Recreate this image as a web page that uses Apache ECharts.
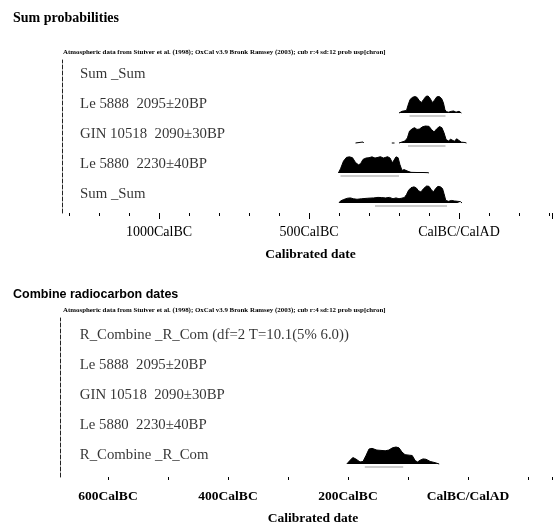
<!DOCTYPE html>
<html><head><meta charset="utf-8">
<script src="https://cdn.jsdelivr.net/npm/echarts@6/dist/echarts.min.js"></script>
<style>html,body{margin:0;padding:0;background:#fff}#c{width:560px;height:531px}</style>
</head><body><div id="c"></div>
<script>
// ---------- text ----------
const topTitle = 'Sum probabilities';
const bottomTitle = 'Combine radiocarbon dates';
const attribution = 'Atmospheric data from Stuiver et al. (1998); OxCal v3.9 Bronk Ramsey (2003); cub r:4 sd:12 prob usp[chron]';
const axisName = 'Calibrated date';
const topRowLabels = ['Sum _Sum', 'Le 5888  2095\u00b120BP', 'GIN 10518  2090\u00b130BP', 'Le 5880  2230\u00b140BP', 'Sum _Sum'];
const bottomRowLabels = ['R_Combine _R_Com (df=2 T=10.1(5% 6.0))', 'Le 5888  2095\u00b120BP', 'GIN 10518  2090\u00b130BP', 'Le 5880  2230\u00b140BP', 'R_Combine _R_Com'];

// ---------- axis ticks (calendar years, negative = BC) ----------
const topMajorTicks = [-1000, -500, 0];
const bottomLabelTicks = [-600, -400, -200, 0];

// ---------- probability distributions [year, relative density] ----------
const lc5888 = [[-200,0],[-190,0.1],[-175,0.15],[-170,0.45],[-163,0.8],[-155,0.92],[-147,0.97],[-140,0.92],[-132,0.72],[-125,0.62],[-118,0.8],[-110,0.98],[-103,1.0],[-96,0.85],[-89,0.62],[-82,0.75],[-74,0.95],[-66,0.97],[-58,0.85],[-52,0.6],[-47,0.2],[-42,0.08],[-35,0.05],[-25,0.1],[-18,0.12],[-10,0.05],[0,0.1],[8,0]];
const gin10518 = [[-345,0],[-340,0.06],[-320,0.06],[-318,0],[-316,null],[-226,null],[-224,0],[-220,0.08],[-215,0],[-213,null],[-203,null],[-200,0],[-195,0.08],[-180,0.12],[-172,0.3],[-165,0.7],[-155,0.85],[-148,0.9],[-140,0.8],[-132,0.82],[-122,0.95],[-112,1.0],[-100,0.98],[-92,0.8],[-83,0.65],[-75,0.82],[-65,0.97],[-57,0.9],[-50,0.6],[-43,0.2],[-35,0.12],[-28,0.22],[-22,0.15],[-15,0.1],[-8,0.25],[0,0.15],[8,0.05],[20,0.03],[25,0]];
const lc5880 = [[-402,0],[-395,0.25],[-385,0.7],[-375,0.92],[-365,0.95],[-355,0.9],[-345,0.62],[-335,0.48],[-328,0.55],[-320,0.8],[-310,0.88],[-300,0.9],[-290,0.95],[-280,0.88],[-270,0.92],[-262,0.96],[-252,0.88],[-245,0.92],[-238,0.96],[-230,0.88],[-222,0.6],[-216,0.55],[-210,0.95],[-203,0.9],[-197,0.5],[-190,0.15],[-183,0.2],[-177,0.25],[-170,0.1],[-160,0.04],[-140,0.03],[-120,0.03],[-103,0.02],[-100,0]];
const sumAll = [[-400,0],[-395,0.12],[-385,0.2],[-372,0.28],[-362,0.3],[-352,0.25],[-340,0.22],[-325,0.25],[-305,0.28],[-285,0.3],[-270,0.33],[-258,0.32],[-245,0.3],[-232,0.33],[-220,0.25],[-210,0.3],[-200,0.25],[-192,0.28],[-182,0.32],[-175,0.5],[-168,0.75],[-160,0.9],[-150,0.95],[-142,0.88],[-135,0.72],[-127,0.65],[-118,0.85],[-108,1.0],[-100,0.98],[-92,0.78],[-85,0.65],[-78,0.85],[-70,0.98],[-62,0.95],[-55,0.85],[-50,0.55],[-44,0.15],[-35,0.1],[-25,0.15],[-15,0.12],[-5,0.1],[5,0.08],[10,0]];
const rCombine = [[-202,0],[-197,0.2],[-192,0.38],[-187,0.3],[-180,0.12],[-175,0.15],[-170,0.5],[-165,0.88],[-160,0.92],[-152,0.82],[-145,0.8],[-138,0.78],[-132,0.82],[-126,0.95],[-120,1.0],[-115,0.95],[-110,0.7],[-105,0.55],[-98,0.52],[-93,0.5],[-88,0.2],[-84,0.12],[-80,0.22],[-75,0.3],[-70,0.28],[-63,0.15],[-55,0.08],[-48,0]];

// ---------- highest-probability ranges [from, to] ----------
const lc5888Range = [-165, -45];
const gin10518Range = [-170, -45];
const lc5880Range = [-395, -200];
const sumRange = [-280, -40];
const rCombineRange = [-172, -108];

// row index from the top (0..4) -> baseline value
const base = i => 4 - i;
const H = 17 / 30; // peak height in row units

const lineBlack = {color: '#000', width: 1};
function dist(pairs, row, gi) {
  const b = base(row);
  return {
    type: 'line', xAxisIndex: gi, yAxisIndex: gi, symbol: 'none', silent: true,
    connectNulls: false, clip: false,
    data: pairs.map(p => [p[0], p[1] == null ? '-' : b + p[1] * H]),
    lineStyle: lineBlack,
    areaStyle: {color: '#000', opacity: 1, origin: b}
  };
}
function rangeBar(r, row, gi) {
  const b = base(row) - 0.1;
  return {
    type: 'line', xAxisIndex: gi, yAxisIndex: gi, symbol: 'none', silent: true,
    data: [[r[0], b], [r[1], b]], lineStyle: {color: '#999', width: 1}
  };
}
function labels(texts, xVal, gi) {
  return {
    type: 'scatter', xAxisIndex: gi, yAxisIndex: gi, symbolSize: 0, clip: false, silent: true,
    data: texts.map((t, i) => ({name: t, value: [xVal, base(i) + 0.31]})),
    label: {show: true, position: 'right', distance: 0, formatter: '{b}',
      fontFamily: 'Liberation Serif', fontSize: 14.8, color: '#000'}
  };
}

const serif = 'Liberation Serif';
const tickLabelTop = v => v === 0 ? 'CalBC/CalAD' : (topMajorTicks.includes(v) ? (-v) + 'CalBC' : '');
const tickLabelBottom = v => v === 0 ? 'CalBC/CalAD' : (bottomLabelTicks.includes(v) ? (-v) + 'CalBC' : '');

const option = {
  animation: false,
  backgroundColor: '#fff',
  title: [
    {text: topTitle, left: 8, top: 6, textStyle: {fontFamily: serif, fontWeight: 'bold', fontSize: 14, color: '#000'}},
    {text: attribution, left: 58, top: 44, textStyle: {fontFamily: serif, fontWeight: 'bold', fontSize: 6.9, color: '#000'}},
    {text: bottomTitle, left: 8, top: 283, textStyle: {fontFamily: 'Liberation Sans', fontWeight: 'bold', fontSize: 12.5, color: '#000'}},
    {text: attribution, left: 58, top: 302, textStyle: {fontFamily: serif, fontWeight: 'bold', fontSize: 6.9, color: '#000'}}
  ],
  graphic: [
    {type: 'text', x: 313, y: 519, style: {text: axisName, fontFamily: serif, fontSize: 13.5, fontWeight: 'bold', fill: '#000', align: 'center', verticalAlign: 'middle'}}
  ],
  grid: [
    {left: 69, top: 60, width: 483, height: 153},
    {left: 159, top: 60, width: 393, height: 153},
    {left: 108, top: 318, width: 444, height: 159}
  ],
  xAxis: [
    {gridIndex: 0, type: 'value', min: -1300, max: 310, interval: 100,
      axisLine: {show: false, onZero: false}, axisTick: {length: 3, lineStyle: {color: '#000'}},
      axisLabel: {show: false}, splitLine: {show: false},
      name: axisName, nameLocation: 'middle', nameGap: 35,
      nameTextStyle: {fontFamily: serif, fontSize: 13.5, fontWeight: 'bold', color: '#000'}},
    {gridIndex: 1, type: 'value', min: -1000, max: 310, interval: 500,
      axisLine: {show: false, onZero: false}, axisTick: {length: 6, lineStyle: {color: '#000'}},
      axisLabel: {formatter: tickLabelTop, margin: 12, fontFamily: serif, fontSize: 14, color: '#000'},
      splitLine: {show: false}},
    {gridIndex: 2, type: 'value', min: -600, max: 140, interval: 100,
      axisLine: {show: false, onZero: false}, axisTick: {length: 3, lineStyle: {color: '#000'}},
      axisLabel: {formatter: tickLabelBottom, margin: 13, fontFamily: serif, fontSize: 13.5, fontWeight: 'bold', color: '#000'},
      splitLine: {show: false}}
  ],
  yAxis: [
    {gridIndex: 0, type: 'value', min: -0.333, max: 4.767, offset: 7,
      axisLine: {show: true, onZero: false, lineStyle: {color: '#222', type: [4, 2], width: 1}},
      axisTick: {show: false}, axisLabel: {show: false}, splitLine: {show: false}},
    {gridIndex: 1, type: 'value', min: -0.333, max: 4.767, show: false},
    {gridIndex: 2, type: 'value', min: -0.433, max: 4.867, offset: 48,
      axisLine: {show: true, onZero: false, lineStyle: {color: '#222', type: [4, 2], width: 1}},
      axisTick: {show: false}, axisLabel: {show: false}, splitLine: {show: false}}
  ],
  series: [
    dist(lc5888, 1, 0),
    dist(gin10518, 2, 0),
    dist(lc5880, 3, 0),
    dist(sumAll, 4, 0),
    rangeBar(lc5888Range, 1, 0),
    rangeBar(gin10518Range, 2, 0),
    rangeBar(lc5880Range, 3, 0),
    rangeBar(sumRange, 4, 0),
    labels(topRowLabels, -1263, 0),
    dist(rCombine, 4, 2),
    rangeBar(rCombineRange, 4, 2),
    labels(bottomRowLabels, -647, 2)
  ]
};
const chart = echarts.init(document.getElementById('c'), null, {renderer: 'canvas'});
chart.setOption(option);
</script>
</body></html>
